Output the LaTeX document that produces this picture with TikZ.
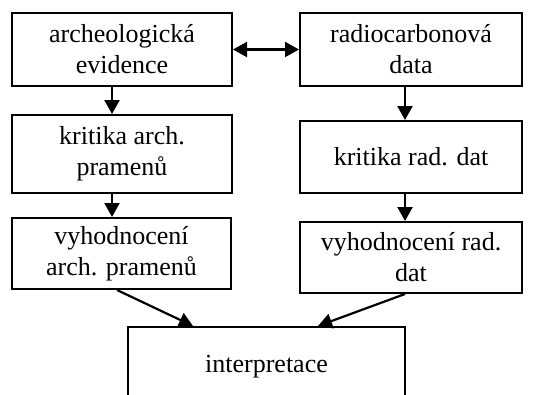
\documentclass[tikz,border=0pt]{standalone}
\usepackage{fontspec}
\setmainfont{Liberation Serif}
\usetikzlibrary{arrows.meta}
\begin{document}
\begin{tikzpicture}[x=1pt,y=-1pt,
  box/.style={draw,line width=2pt,rectangle,align=center,inner sep=0pt,
    font=\fontsize{26}{31}\selectfont},
  conn/.style={line width=2.2pt,-{Triangle[length=14pt,width=15pt]}},
  conn2/.style={line width=2.2pt,{Triangle[length=14pt,width=15pt]}-{Triangle[length=14pt,width=15pt]}}]
\useasboundingbox (0,0) rectangle (534,394);
\begin{scope}
\clip (0,0) rectangle (534,394);
\node[box,minimum width=220pt,minimum height=73pt] (A) at (122,49.5) {archeologická\\evidence};
\node[box,minimum width=222pt,minimum height=73pt] (B) at (411,49.5) {radiocarbonová\\data};
\node[box,minimum width=220pt,minimum height=78pt] (C) at (122,154) {kritika arch.\\pramenů};
\node[box,minimum width=222pt,minimum height=72pt] (D) at (411,157) {kritika rad. dat};
\node[box,minimum width=219pt,minimum height=71pt] (E) at (121.5,253.5) {vyhodnocení\\arch. pramenů};
\node[box,minimum width=222pt,minimum height=71pt] (F) at (411,257.5) {vyhodnocení rad.\\dat};
\node[box,minimum width=277pt,minimum height=80pt] (G) at (266.5,367) {interpretace};
\end{scope}
\draw[conn2] (A.east) -- (B.west);
\draw[conn] ([xshift=-10pt]A.south) -- ([xshift=-10pt]C.north);
\draw[conn] ([xshift=-6pt]B.south) -- ([xshift=-6pt]D.north);
\draw[conn] ([xshift=-10pt]C.south) -- ([xshift=-9.5pt]E.north);
\draw[conn] ([xshift=-6pt]D.south) -- ([xshift=-6pt]F.north);
\draw[conn] ([xshift=-4.5pt]E.south) -- ([xshift=-73.5pt]G.north);
\draw[conn] ([xshift=-6pt]F.south) -- ([xshift=51.5pt]G.north);
\end{tikzpicture}
\end{document}
